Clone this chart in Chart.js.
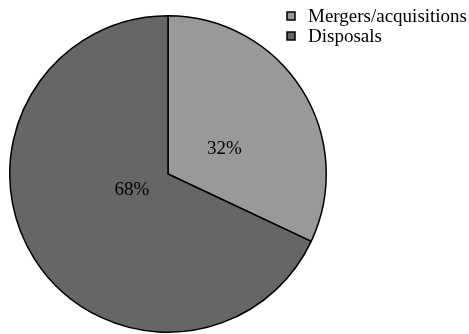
<!DOCTYPE html>
<html>
<head>
<meta charset="utf-8">
<script src="https://cdn.jsdelivr.net/npm/chart.js@4.4.0/dist/chart.umd.min.js"></script>
<style>
  html, body { margin: 0; padding: 0; background: #fff; }
  #wrap { width: 469px; height: 334px; position: relative; }
</style>
</head>
<body>
<div id="wrap"><canvas id="pieChart"></canvas></div>
<script>
const categories = ['Mergers/acquisitions', 'Disposals'];
const shares = [32, 68];
const sliceColors = ['#999999', '#666666'];

const FONT = '"Liberation Serif", "Times New Roman", serif';

// percentage labels inside the slices
const pctLabels = {
    id: 'pctLabels',
    afterDatasetsDraw(chart, args, opts) {
        const c = chart.ctx;
        const meta = chart.getDatasetMeta(0);
        c.save();
        c.font = '19px ' + FONT;
        c.fillStyle = '#000';
        c.textAlign = 'center';
        c.textBaseline = 'middle';
        meta.data.forEach((arc, i) => {
            const p = arc.getProps(['x', 'y', 'startAngle', 'endAngle', 'outerRadius'], true);
            const a = (p.startAngle + p.endAngle) / 2 + opts.angleShift[i];
            const r = p.outerRadius * opts.radius[i];
            c.fillText(shares[i] + '%', p.x + Math.cos(a) * r, p.y + Math.sin(a) * r);
        });
        c.restore();
    }
};

// legend in the top right corner
const boxLegend = {
    id: 'boxLegend',
    afterDraw(chart, args, opts) {
        const c = chart.ctx;
        c.save();
        c.font = '19px ' + FONT;
        c.textBaseline = 'middle';
        categories.forEach((name, i) => {
            const y = opts.top + i * opts.rowGap;
            c.fillStyle = sliceColors[i];
            c.fillRect(opts.left, y - 4, 8, 8);
            c.strokeStyle = '#000';
            c.lineWidth = 1.5;
            c.strokeRect(opts.left, y - 4, 8, 8);
            c.fillStyle = '#000';
            c.fillText(name, opts.left + 21, y + 1);
        });
        c.restore();
    }
};

new Chart(document.getElementById('pieChart').getContext('2d'), {
    type: 'pie',
    data: {
        labels: categories,
        datasets: [{
            data: shares,
            backgroundColor: sliceColors,
            borderColor: '#000',
            borderWidth: 1.5
        }]
    },
    options: {
        responsive: true,
        maintainAspectRatio: false,
        animation: false,
        layout: { padding: { left: 9, right: 142, top: 15, bottom: 1 } },
        plugins: {
            legend: { display: false },
            tooltip: { enabled: false },
            pctLabels: { radius: [0.39, 0.25], angleShift: [0.15, 0.15] },
            boxLegend: { left: 287, top: 16, rowGap: 20 }
        }
    },
    plugins: [pctLabels, boxLegend]
});
</script>
</body>
</html>
